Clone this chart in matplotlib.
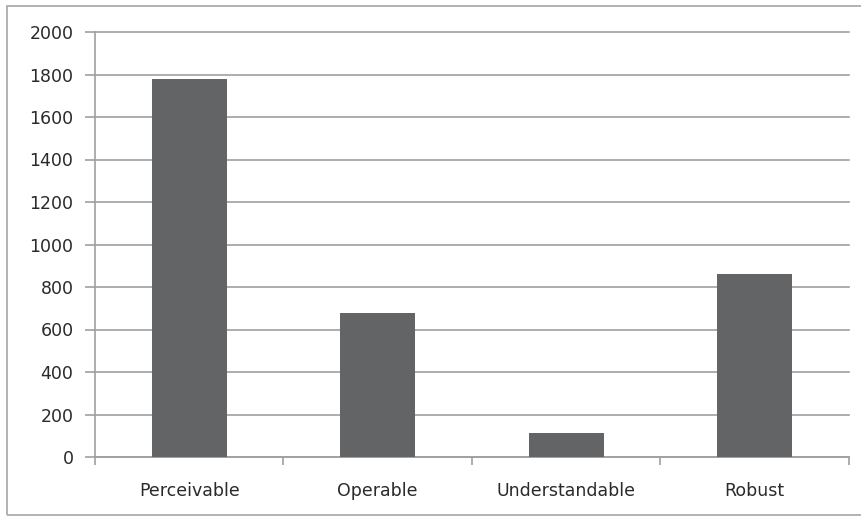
import matplotlib
matplotlib.use("Agg")
import matplotlib.pyplot as plt
from matplotlib.patches import Rectangle
import numpy as np

categories = ["Perceivable", "Operable", "Understandable", "Robust"]
counts = [1780, 676, 114, 861]
y_ticks = [0, 200, 400, 600, 800, 1000, 1200, 1400, 1600, 1800, 2000]

W, H = 862, 516
fig = plt.figure(figsize=(W / 100, H / 100), dpi=100)
fig.patch.set_facecolor("white")

# outer chart frame
fig.patches.append(Rectangle((7 / W, 1 - 515 / H), (W - 6) / W, (515 - 6) / H,
                             transform=fig.transFigure, fill=False,
                             edgecolor="#a6a6a6", linewidth=1.2))

ax = fig.add_axes([95 / W, 1 - 457 / H, (849 - 95) / W, (457 - 32) / H])
x = np.arange(len(categories))
ax.bar(x, counts, width=0.4, color="#636466", zorder=3)

ax.set_xlim(-0.5, len(categories) - 0.5)
ax.set_ylim(0, 2000)
ax.set_yticks(y_ticks)
ax.set_yticklabels([str(v) for v in y_ticks])
ax.yaxis.grid(True, color="#a0a0a0", linewidth=1.2, zorder=0)
for gl in ax.get_ygridlines():
    gl.set_clip_on(False)

ax.set_xticks(x)
ax.set_xticklabels(categories)
ax.set_xticks(np.arange(-0.5, len(categories)), minor=True)
ax.tick_params(axis="x", which="major", length=0, pad=18)
ax.tick_params(axis="x", which="minor", length=6, color="#a0a0a0", width=1.2)
ax.tick_params(axis="y", length=7.5, color="#a0a0a0", width=1.2, pad=8)
ax.tick_params(labelsize=12.5, labelcolor="#2a2a2a")

for side in ["top", "right"]:
    ax.spines[side].set_visible(False)
for side in ["left", "bottom"]:
    ax.spines[side].set_color("#a0a0a0")
    ax.spines[side].set_linewidth(1.2)

for lbl in ax.get_xticklabels() + ax.get_yticklabels():
    lbl.set_family(["DejaVu Sans"])

fig.savefig("out.png", dpi=100)
